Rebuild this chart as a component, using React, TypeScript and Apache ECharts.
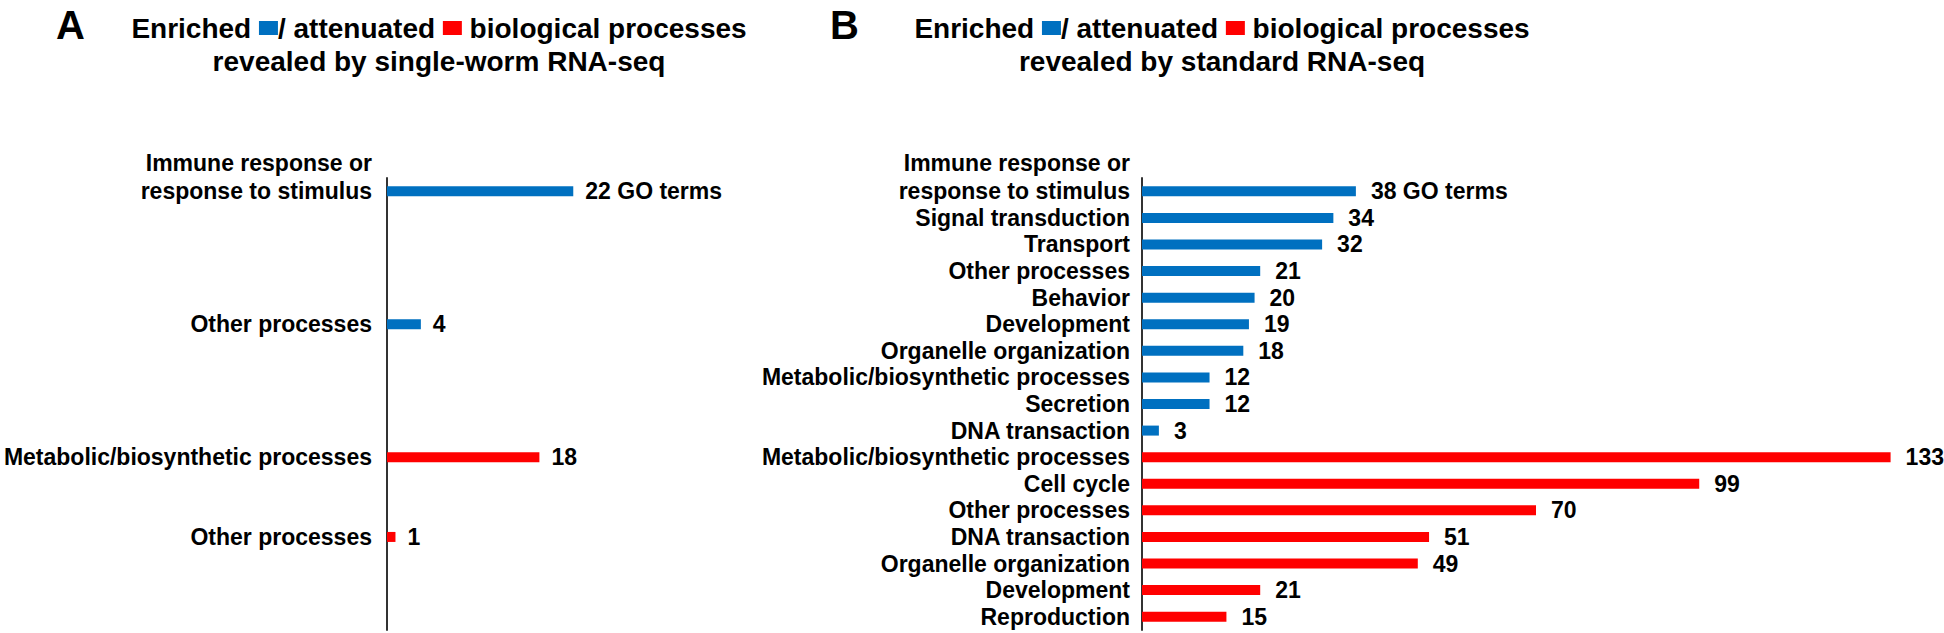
import React, { useEffect, useRef } from "react";
import * as echarts from "echarts";

const FONT = '"Liberation Sans", Arial, Helvetica, sans-serif';
const BLUE = "#0070C0";
const RED = "#FF0000";

// Panel A: single-worm RNA-seq (blank rows kept as in the original sheet)
const catsA = [
  "Immune response or\nresponse to stimulus", "", "", "", "",
  "Other processes", "", "", "", "",
  "Metabolic/biosynthetic processes", "", "",
  "Other processes", "", "", "",
];
const valsA = [22, null, null, null, null, 4, null, null, null, null, 18, null, null, 1, null, null, null];
const groupA = ["enriched", "", "", "", "", "enriched", "", "", "", "", "attenuated", "", "", "attenuated", "", "", ""];

// Panel B: standard RNA-seq
const catsB = [
  "Immune response or\nresponse to stimulus",
  "Signal transduction",
  "Transport",
  "Other processes",
  "Behavior",
  "Development",
  "Organelle organization",
  "Metabolic/biosynthetic processes",
  "Secretion",
  "DNA transaction",
  "Metabolic/biosynthetic processes",
  "Cell cycle",
  "Other processes",
  "DNA transaction",
  "Organelle organization",
  "Development",
  "Reproduction",
];
const valsB = [38, 34, 32, 21, 20, 19, 18, 12, 12, 3, 133, 99, 70, 51, 49, 21, 15];
const groupB = [
  "enriched", "enriched", "enriched", "enriched", "enriched",
  "enriched", "enriched", "enriched", "enriched", "enriched",
  "attenuated", "attenuated", "attenuated", "attenuated", "attenuated", "attenuated", "attenuated",
];

const unitLabel = "GO terms";
const titleLine1 = "Enriched {b| }/ attenuated {r| } biological processes";
const titleA2 = "revealed by single-worm RNA-seq";
const titleB2 = "revealed by standard RNA-seq";

function barData(vals: (number | null)[], groups: string[]) {
  return vals.map((v, i) =>
    v == null ? "-" : { value: v, itemStyle: { color: groups[i] === "enriched" ? BLUE : RED } }
  );
}

function yAxis(cats: string[], gridIndex: number, margin: number) {
  return {
    type: "category",
    gridIndex,
    inverse: true,
    data: cats,
    axisTick: { show: false },
    axisLine: { show: true, lineStyle: { color: "#333", width: 2 } },
    axisLabel: {
      interval: 0,
      margin,
      color: "#000",
      fontSize: 23,
      fontWeight: "bold",
      fontFamily: FONT,
      lineHeight: 28,
      formatter: (v: string) => (v.includes("\n") ? v + "\n " : v),
    },
    splitLine: { show: false },
  };
}

function series(vals: (number | null)[], groups: string[], idx: number, dist: number) {
  return {
    type: "bar",
    xAxisIndex: idx,
    yAxisIndex: idx,
    barWidth: 10,
    data: barData(vals, groups),
    label: {
      show: true,
      position: "right",
      distance: dist,
      color: "#000",
      fontSize: 23,
      fontWeight: "bold",
      fontFamily: FONT,
      formatter: (p: any) => (p.dataIndex === 0 ? `${p.value} ${unitLabel}` : `${p.value}`),
    },
  };
}

const rich = {
  b: { backgroundColor: BLUE, width: 19, height: 14, verticalAlign: "middle" },
  r: { backgroundColor: RED, width: 19, height: 14, verticalAlign: "middle" },
};

function titleTexts(cx: number, line2: string, letter: string, lx: number) {
  const font = `bold 28px ${FONT}`;
  return [
    { type: "text", x: lx, y: 25, style: { text: letter, font: `bold 40px ${FONT}`, fill: "#000", align: "left", verticalAlign: "middle" } },
    { type: "text", x: cx, y: 28, style: { text: titleLine1, font, fill: "#000", align: "center", verticalAlign: "middle", rich } },
    { type: "text", x: cx, y: 61, style: { text: line2, font, fill: "#000", align: "center", verticalAlign: "middle" } },
  ];
}

export default function App() {
  const ref = useRef<HTMLDivElement>(null);
  useEffect(() => {
    if (!ref.current) return;
    const chart = echarts.init(ref.current, null, { renderer: "svg" });
    chart.setOption({
      animation: false,
      backgroundColor: "#fff",
      grid: [
        { left: 387, top: 178, width: 254, height: 452 },
        { left: 1142, top: 178, width: 788, height: 452 },
      ],
      xAxis: [
        { type: "value", gridIndex: 0, min: 0, max: 30, show: false, splitLine: { show: false } },
        { type: "value", gridIndex: 1, min: 0, max: 140, show: false, splitLine: { show: false } },
      ],
      yAxis: [yAxis(catsA, 0, 15), yAxis(catsB, 1, 12)],
      series: [series(valsA, groupA, 0, 12), series(valsB, groupB, 1, 15)],
      graphic: [...titleTexts(439, titleA2, "A", 56), ...titleTexts(1222, titleB2, "B", 830)],
    });
    return () => chart.dispose();
  }, []);
  return (
    <div
      ref={ref}
      style={{ position: "absolute", left: 0, top: 0, width: 1944, height: 633, background: "#fff" }}
    />
  );
}
